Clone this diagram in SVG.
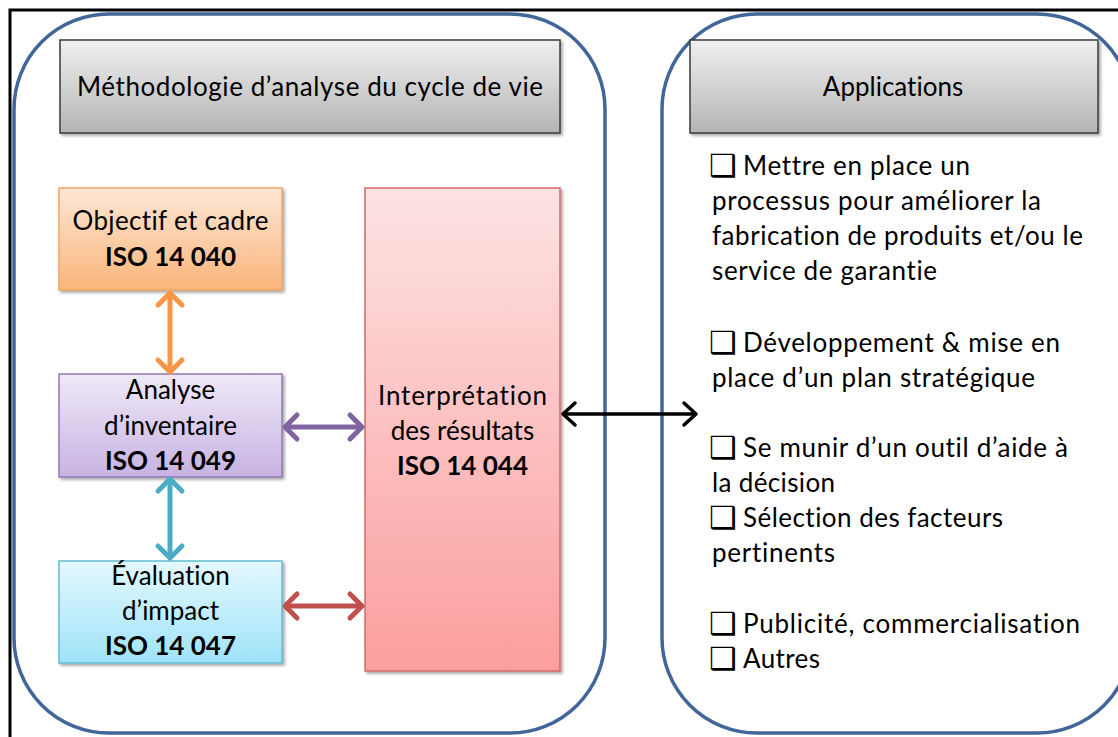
<svg xmlns="http://www.w3.org/2000/svg" width="1118" height="737" viewBox="0 0 1118 737">
<defs>
<linearGradient id="gHead" x1="0" y1="0" x2="0" y2="1"><stop offset="0" stop-color="#f0f0f0"/><stop offset="1" stop-color="#b4b4b4"/></linearGradient>
<linearGradient id="gOrange" x1="0" y1="0" x2="0" y2="1"><stop offset="0" stop-color="#fde7d6"/><stop offset="1" stop-color="#fab47a"/></linearGradient>
<linearGradient id="gPurple" x1="0" y1="0" x2="0" y2="1"><stop offset="0" stop-color="#efe9f7"/><stop offset="1" stop-color="#c7b2e2"/></linearGradient>
<linearGradient id="gCyan" x1="0" y1="0" x2="0" y2="1"><stop offset="0" stop-color="#e4f8fe"/><stop offset="1" stop-color="#9fe3f9"/></linearGradient>
<linearGradient id="gPink" x1="0" y1="0" x2="0" y2="1"><stop offset="0" stop-color="#fde3e3"/><stop offset="1" stop-color="#fb9e9e"/></linearGradient>
<filter id="shadow" x="-10%" y="-10%" width="130%" height="130%"><feDropShadow dx="2" dy="2" stdDeviation="1.5" flood-color="#000" flood-opacity="0.35"/></filter>
<marker id="mOrange" markerUnits="userSpaceOnUse" viewBox="-16 -16 20 32" markerWidth="20" markerHeight="32" refX="0" refY="0" orient="auto-start-reverse"><path d="M-12,-12 L0,0 L-12,12" fill="none" stroke="#f79646" stroke-width="5" stroke-linecap="round" stroke-linejoin="round"/></marker>
<marker id="mTeal" markerUnits="userSpaceOnUse" viewBox="-16 -16 20 32" markerWidth="20" markerHeight="32" refX="0" refY="0" orient="auto-start-reverse"><path d="M-12,-12 L0,0 L-12,12" fill="none" stroke="#4bacc6" stroke-width="5" stroke-linecap="round" stroke-linejoin="round"/></marker>
<marker id="mPurple" markerUnits="userSpaceOnUse" viewBox="-16 -16 20 32" markerWidth="20" markerHeight="32" refX="0" refY="0" orient="auto-start-reverse"><path d="M-12,-12 L0,0 L-12,12" fill="none" stroke="#8064a2" stroke-width="5" stroke-linecap="round" stroke-linejoin="round"/></marker>
<marker id="mRed" markerUnits="userSpaceOnUse" viewBox="-16 -16 20 32" markerWidth="20" markerHeight="32" refX="0" refY="0" orient="auto-start-reverse"><path d="M-12,-12 L0,0 L-12,12" fill="none" stroke="#c0504d" stroke-width="5" stroke-linecap="round" stroke-linejoin="round"/></marker>
<marker id="mBlack" markerUnits="userSpaceOnUse" viewBox="-16 -16 20 32" markerWidth="20" markerHeight="32" refX="0" refY="0" orient="auto-start-reverse"><path d="M-12,-11 L0,0 L-12,11" fill="none" stroke="#000" stroke-width="3.5" stroke-linecap="round" stroke-linejoin="round"/></marker>
</defs>
<style>
.container{fill:#fff;stroke:#41669a;stroke-width:3.5}
.head{fill:url(#gHead);stroke:#3a3a3a;stroke-width:1.5;filter:url(#shadow)}
.box{stroke-width:1.5;filter:url(#shadow)}
text{font-family:Lato,"Liberation Sans","DejaVu Sans",sans-serif;fill:#000;font-variant-ligatures:none;font-feature-settings:"liga" 0}
.t{font-size:26px}
.c{text-anchor:middle}
.b{font-weight:bold}
.cb{font-family:"DejaVu Sans",sans-serif;font-size:31px}
.conn{fill:none}
</style>
<rect x="0" y="0" width="1118" height="737" fill="#fff"/>
<rect x="10" y="10" width="1200" height="800" fill="none" stroke="#000" stroke-width="3"/>
<g id="left-container">
<rect class="container" x="14" y="14" width="591" height="719" rx="95" ry="95"/>
</g>
<g id="right-container">
<rect class="container" x="662" y="14" width="470" height="719" rx="95" ry="95"/>
</g>
<g id="header-methodologie">
<rect class="head" x="60" y="40" width="500" height="93"/>
<text class="t c" x="310" y="96" textLength="466">Méthodologie d’analyse du cycle de vie</text>
</g>
<g id="header-applications">
<rect class="head" x="690" y="40" width="408" height="93"/>
<text class="t c" x="893" y="96">Applications</text>
</g>
<g id="objectif">
<rect class="box" x="59" y="188" width="223" height="102" fill="url(#gOrange)" stroke="#f6a45f"/>
<text class="t c" x="170.5" y="230" textLength="196">Objectif et cadre</text>
<text class="t c b" x="170.5" y="266">ISO 14 040</text>
</g>
<g id="analyse">
<rect class="box" x="59" y="374" width="223" height="103" fill="url(#gPurple)" stroke="#9178b5"/>
<text class="t c" x="170.5" y="399">Analyse</text>
<text class="t c" x="170.5" y="435">d’inventaire</text>
<text class="t c b" x="170.5" y="470">ISO 14 049</text>
</g>
<g id="evaluation">
<rect class="box" x="59" y="561" width="223" height="102" fill="url(#gCyan)" stroke="#62bcd6"/>
<text class="t c" x="170.5" y="585">Évaluation</text>
<text class="t c" x="170.5" y="620">d’impact</text>
<text class="t c b" x="170.5" y="655">ISO 14 047</text>
</g>
<g id="interpretation">
<rect class="box" x="365" y="188" width="195" height="483" fill="url(#gPink)" stroke="#d4696b"/>
<text class="t c" x="462.5" y="405" textLength="169">Interprétation</text>
<text class="t c" x="462.5" y="440">des résultats</text>
<text class="t c b" x="462.5" y="475">ISO 14 044</text>
</g>
<g id="applications-list">
<text class="t"><tspan class="cb" x="709" y="176">❑</tspan><tspan x="743" y="175" textLength="227">Mettre en place un</tspan></text>
<text class="t" x="712" y="210" textLength="329">processus pour améliorer la</text>
<text class="t" x="712" y="245" textLength="371">fabrication de produits et/ou le</text>
<text class="t" x="712" y="280" textLength="225">service de garantie</text>
<text class="t"><tspan class="cb" x="709" y="353">❑</tspan><tspan x="743" y="352" textLength="317">Développement &amp; mise en</tspan></text>
<text class="t" x="712" y="387" textLength="323">place d’un plan stratégique</text>
<text class="t"><tspan class="cb" x="709" y="458">❑</tspan><tspan x="743" y="457" textLength="325">Se munir d’un outil d’aide à</tspan></text>
<text class="t" x="712" y="492" textLength="123">la décision</text>
<text class="t"><tspan class="cb" x="709" y="528">❑</tspan><tspan x="743" y="527" textLength="260">Sélection des facteurs</tspan></text>
<text class="t" x="712" y="562" textLength="123">pertinents</text>
<text class="t"><tspan class="cb" x="709" y="634">❑</tspan><tspan x="743" y="633" textLength="337">Publicité, commercialisation</tspan></text>
<text class="t"><tspan class="cb" x="709" y="669">❑</tspan><tspan x="743" y="668" textLength="77">Autres</tspan></text>
</g>
<g id="connectors" class="conn">
<line x1="170" y1="293" x2="170" y2="372" stroke="#f79646" stroke-width="5" marker-start="url(#mOrange)" marker-end="url(#mOrange)"/>
<line x1="170" y1="479" x2="170" y2="558" stroke="#4bacc6" stroke-width="5" marker-start="url(#mTeal)" marker-end="url(#mTeal)"/>
<line x1="285" y1="427" x2="362" y2="427" stroke="#8064a2" stroke-width="5" marker-start="url(#mPurple)" marker-end="url(#mPurple)"/>
<line x1="285" y1="606" x2="362" y2="606" stroke="#c0504d" stroke-width="5" marker-start="url(#mRed)" marker-end="url(#mRed)"/>
<line x1="563" y1="414" x2="696" y2="414" stroke="#000" stroke-width="3.5" marker-start="url(#mBlack)" marker-end="url(#mBlack)"/>
</g>
</svg>
